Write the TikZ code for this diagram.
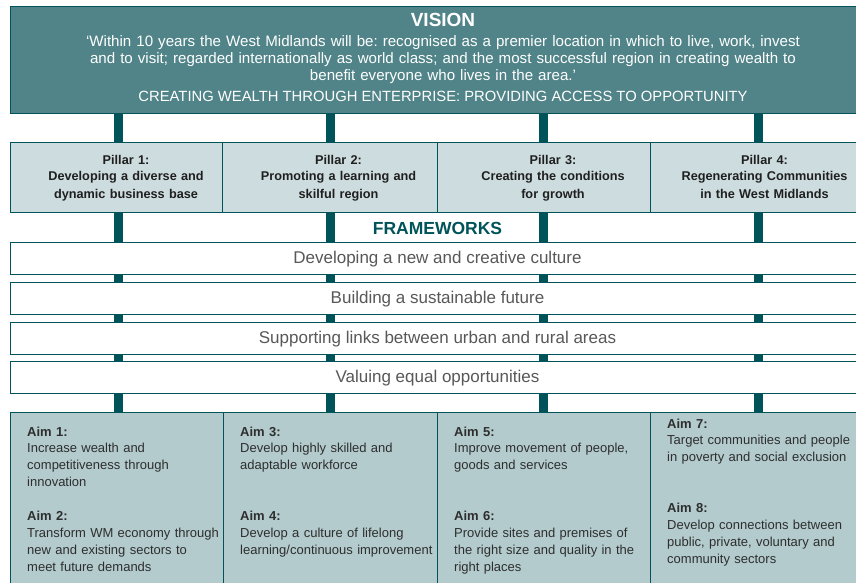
\documentclass[tikz,border=0pt]{standalone}
\usepackage{fontspec}
\setmainfont{Liberation Sans}
\frenchspacing

\definecolor{visionteal}{HTML}{508488}
\definecolor{darkteal}{HTML}{005359}
\definecolor{pillarfill}{HTML}{CDDCDE}
\definecolor{aimfill}{HTML}{B3CBCD}
\definecolor{fwgrey}{HTML}{585858}
\definecolor{aimink}{HTML}{2E2E2E}

\tikzset{
  panel/.style={draw=darkteal, line width=0.9pt, anchor=north west, inner sep=0pt},
  bar/.style={draw=darkteal, line width=9pt},
  pillartext/.style={anchor=base, align=center, text width=200pt, inner sep=0pt,
    font=\fontsize{12.7}{17}\selectfont\bfseries, text=black!88},
  fwtext/.style={anchor=base, inner sep=0pt, font=\fontsize{17}{20}\selectfont, text=fwgrey},
  aimtext/.style={anchor=base west, align=left, text width=205pt, inner sep=0pt,
    font=\fontsize{13}{16.8}\selectfont, text=aimink},
}

\begin{document}
\begin{tikzpicture}[x=1pt,y=-1pt]
\useasboundingbox (0,0) rectangle (856,583);
\clip (0,0) rectangle (856,583);

%vision banner
\node[panel, fill=visionteal, minimum width=850pt, minimum height=107pt] (vision) at (10,6) {};
\node[anchor=base, inner sep=0pt, text=white, font=\fontsize{19}{22}\selectfont\bfseries] (visiontitle) at (443,27) {VISION};
\node[anchor=base, inner sep=0pt, align=center, text width=820pt, text=white,
  font=\fontsize{15.1}{17}\selectfont] (quote) at (443,47)
  {‘Within 10 years the West Midlands will be: recognised as a premier location in which to live, work, invest\\
   and to visit; regarded internationally as world class; and the most successful region in creating wealth to\\
   benefit everyone who lives in the area.’};
\node[anchor=base, inner sep=0pt, text=white, font=\fontsize{14.8}{17}\selectfont] (motto) at (443,102)
  {CREATING WEALTH THROUGH ENTERPRISE: PROVIDING ACCESS TO OPPORTUNITY};

%aim panels
\foreach \x/\w [count=\i] in {10/213, 223/214, 437/213, 650/210}{
  \node[panel, fill=aimfill, minimum width=\w pt, minimum height=180pt] (aims\i) at (\x,412) {};
};

%pillar bars
\foreach \x [count=\i] in {118,330,543,758.5}{
  \coordinate (bartop\i) at (\x,113);
  \draw[bar] (bartop\i) -- (bartop\i |- aims1.north);
};

%pillars
\foreach \x/\w [count=\i] in {10/212, 222/215, 437/213, 650/210}{
  \node[panel, fill=pillarfill, minimum width=\w pt, minimum height=70pt] (pillar\i) at (\x,142) {};
};
\node[pillartext] (pillartext1) at (126,164) {Pillar 1:\\Developing a diverse and\\dynamic business base};
\node[pillartext] (pillartext2) at (338.5,164) {Pillar 2:\\Promoting a learning and\\skilful region};
\node[pillartext] (pillartext3) at (553,164) {Pillar 3:\\Creating the conditions\\for growth};
\node[pillartext] (pillartext4) at (764.5,164) {Pillar 4:\\Regenerating Communities\\in the West Midlands};

%frameworks
\node[anchor=base, inner sep=0pt, text=darkteal, font=\fontsize{17.5}{20}\selectfont\bfseries] (frameworks) at (437.5,234) {FRAMEWORKS};
\foreach \y/\t [count=\i] in {242/Developing a new and creative culture,
                              282/Building a sustainable future,
                              322/Supporting links between urban and rural areas,
                              361/Valuing equal opportunities}{
  \node[panel, fill=white, minimum width=850pt, minimum height=32pt] (frame\i) at (10,\y) {};
  \node[fwtext] (frametext\i) at (437.5,\y+21) {\t};
};

%aims
\node[aimtext] (aim1) at (27,436) {\textbf{Aim 1:}\\Increase wealth and\\competitiveness through\\innovation};
\node[aimtext] (aim2) at (27,520.7) {\textbf{Aim 2:}\\Transform WM economy through\\new and existing sectors to\\meet future demands};
\node[aimtext] (aim3) at (240,436) {\textbf{Aim 3:}\\Develop highly skilled and\\adaptable workforce};
\node[aimtext] (aim4) at (240,520.7) {\textbf{Aim 4:}\\Develop a culture of lifelong\\learning/continuous improvement};
\node[aimtext] (aim5) at (454,436) {\textbf{Aim 5:}\\Improve movement of people,\\goods and services};
\node[aimtext] (aim6) at (454,520.7) {\textbf{Aim 6:}\\Provide sites and premises of\\the right size and quality in the\\right places};
\node[aimtext] (aim7) at (667,428) {\textbf{Aim 7:}\\Target communities and people\\in poverty and social exclusion};
\node[aimtext] (aim8) at (667,512.7) {\textbf{Aim 8:}\\Develop connections between\\public, private, voluntary and\\community sectors};
\end{tikzpicture}
\end{document}
